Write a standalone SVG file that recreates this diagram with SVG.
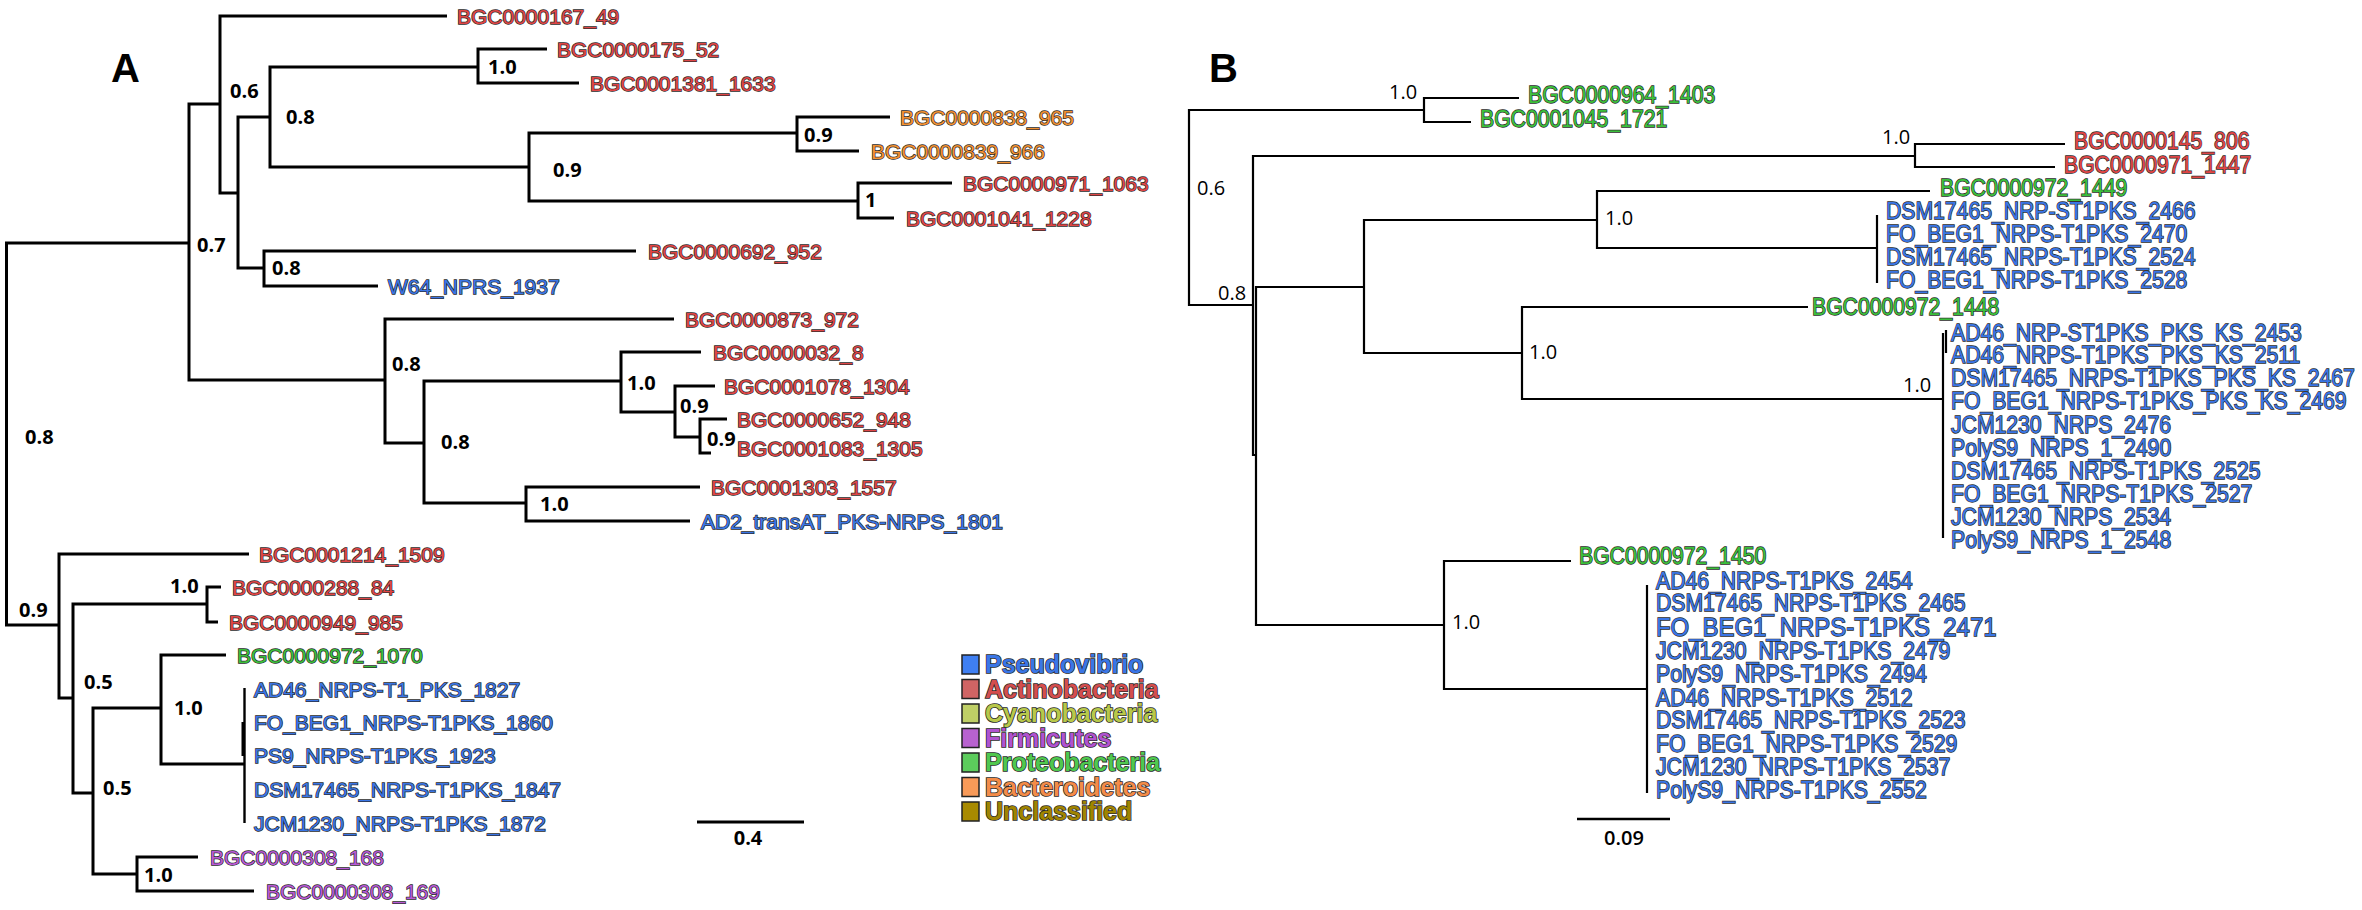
<svg xmlns="http://www.w3.org/2000/svg" width="2362" height="910" viewBox="0 0 2362 910">
<style>
.ta{stroke:#000;stroke-width:3;fill:none;stroke-linejoin:miter}
.tb{stroke:#000;stroke-width:2.2;fill:none;stroke-linejoin:miter}
.la{font-family:"Liberation Sans",Arial,sans-serif;font-size:21px;stroke:#2a2a2a;stroke-width:1.4px;paint-order:stroke}
.lb{font-family:"Liberation Sans",Arial,sans-serif;font-size:24px;stroke:#2a2a2a;stroke-width:1.4px;paint-order:stroke}
.red{fill:#e04646}.blue{fill:#3a76e6}.green{fill:#3cbf3c}.orange{fill:#f39232}.purple{fill:#b85ad6}
.sa{font-family:"Open Sans","DejaVu Sans",sans-serif;font-size:20px;font-weight:700;fill:#000}
.sb{font-family:"Open Sans","DejaVu Sans",sans-serif;font-size:20px;font-weight:400;fill:#000}
.pl{font-family:"Liberation Sans",Arial,sans-serif;font-size:40px;font-weight:700;fill:#000}
.lg{font-family:"Liberation Sans",Arial,sans-serif;font-size:25px;font-weight:700;stroke:#2a2a2a;stroke-width:1.6px;paint-order:stroke}
.sq{stroke:#222;stroke-width:1.5}
</style>
<rect width="2362" height="910" fill="#fff"/>
<text class="pl" x="111" y="82">A</text>
<text class="pl" x="1209" y="82">B</text>
<g id="connectors">
<g id="tree-A">
<path class="ta" d="M189,243 H6.5 V625 H59"/>
<path class="ta" d="M220,104 H189 V380 H385"/>
<path class="ta" d="M447,16 H220 V193 H238"/>
<path class="ta" d="M270,117 H238 V268 H264"/>
<path class="ta" d="M478,67 H270 V167 H529"/>
<path class="ta" d="M547,49 H478 V83 H579"/>
<path class="ta" d="M797,133 H529 V201 H858"/>
<path class="ta" d="M890,117 H797 V151 H859"/>
<path class="ta" d="M952,183 H858 V218 H894"/>
<path class="ta" d="M636,251 H264 V286 H378"/>
<path class="ta" d="M674,319 H385 V443 H424"/>
<path class="ta" d="M621,381 H424 V503 H526"/>
<path class="ta" d="M701,352 H621 V412 H675"/>
<path class="ta" d="M715,386 H675 V437 H700"/>
<path class="ta" d="M727,419 H700 V453 H711"/>
<path class="ta" d="M700,487 H526 V521 H690"/>
<path class="ta" d="M249,554 H59 V698 H73"/>
<path class="ta" d="M207,604 H73 V793 H93"/>
<path class="ta" d="M221,587 H207 V622 H218"/>
<path class="ta" d="M161,708 H93 V874 H137"/>
<path class="ta" d="M226,655 H161 V764 H244"/>
<path class="ta" d="M244.5,688 V823" style="stroke-width:2.4"/>
<path class="ta" d="M243,722 V756"/>
<path class="ta" d="M198,857 H137 V891 H254"/>
<path class="ta" d="M697,822 H804"/>
</g>
<g id="tree-B">
<path class="tb" d="M1424,110 H1189 V305 H1253"/>
<path class="tb" d="M1519,98 H1424 V122 H1471"/>
<path class="tb" d="M1915,156 H1253 V455 H1256"/>
<path class="tb" d="M2065,144 H1915 V167 H2055"/>
<path class="tb" d="M1364,287 H1256 V625 H1444"/>
<path class="tb" d="M1597,220 H1364 V353 H1522"/>
<path class="tb" d="M1930,191 H1597 V248 H1877"/>
<path class="tb" d="M1877,215 V283"/>
<path class="tb" d="M1808,307 H1522 V399 H1943"/>
<path class="tb" d="M1943,333 V538"/>
<path class="tb" d="M1946,330 V353"/>
<path class="tb" d="M1571,561 H1444 V689 H1647"/>
<path class="tb" d="M1647,585 V793"/>
<path class="tb" d="M1577,819 H1670" style="stroke-width:2.6"/>
</g>
</g>
<g id="support-values">
<text class="sa" x="197" y="252">0.7</text>
<text class="sa" x="230" y="98">0.6</text>
<text class="sa" x="286" y="124">0.8</text>
<text class="sa" x="488" y="74">1.0</text>
<text class="sa" x="553" y="177">0.9</text>
<text class="sa" x="804" y="142">0.9</text>
<text class="sa" x="865" y="207">1</text>
<text class="sa" x="272" y="275">0.8</text>
<text class="sa" x="392" y="371">0.8</text>
<text class="sa" x="441" y="449">0.8</text>
<text class="sa" x="627" y="390">1.0</text>
<text class="sa" x="680" y="413">0.9</text>
<text class="sa" x="707" y="446">0.9</text>
<text class="sa" x="540" y="511">1.0</text>
<text class="sa" x="25" y="444">0.8</text>
<text class="sa" x="19" y="617">0.9</text>
<text class="sa" x="170" y="593">1.0</text>
<text class="sa" x="84" y="689">0.5</text>
<text class="sa" x="103" y="795">0.5</text>
<text class="sa" x="174" y="715">1.0</text>
<text class="sa" x="144" y="882">1.0</text>
<text class="sa" x="748" y="845" text-anchor="middle">0.4</text>
<text class="sb" x="1389" y="99">1.0</text>
<text class="sb" x="1197" y="195">0.6</text>
<text class="sb" x="1218" y="300">0.8</text>
<text class="sb" x="1882" y="144">1.0</text>
<text class="sb" x="1605" y="225">1.0</text>
<text class="sb" x="1529" y="359">1.0</text>
<text class="sb" x="1903" y="392">1.0</text>
<text class="sb" x="1452" y="629">1.0</text>
<text class="sb" x="1624" y="845" text-anchor="middle" style="font-weight:600">0.09</text>
</g>
<g id="nodes-A">
<g id="a1"><text class="la red" x="457" y="23.5">BGC0000167_49</text></g>
<g id="a2"><text class="la red" x="557" y="56.5">BGC0000175_52</text></g>
<g id="a3"><text class="la red" x="590" y="90.5">BGC0001381_1633</text></g>
<g id="a4"><text class="la orange" x="900" y="124.5">BGC0000838_965</text></g>
<g id="a5"><text class="la orange" x="871" y="158.5">BGC0000839_966</text></g>
<g id="a6"><text class="la red" x="963" y="190.5">BGC0000971_1063</text></g>
<g id="a7"><text class="la red" x="906" y="225.5">BGC0001041_1228</text></g>
<g id="a8"><text class="la red" x="648" y="258.5">BGC0000692_952</text></g>
<g id="a9"><text class="la blue" x="388" y="293.5">W64_NPRS_1937</text></g>
<g id="a10"><text class="la red" x="685" y="326.5">BGC0000873_972</text></g>
<g id="a11"><text class="la red" x="713" y="359.5">BGC0000032_8</text></g>
<g id="a12"><text class="la red" x="724" y="393.5">BGC0001078_1304</text></g>
<g id="a13"><text class="la red" x="737" y="426.5">BGC0000652_948</text></g>
<g id="a14"><text class="la red" x="737" y="456">BGC0001083_1305</text></g>
<g id="a15"><text class="la red" x="711" y="494.5">BGC0001303_1557</text></g>
<g id="a16"><text class="la blue" x="701" y="528.5">AD2_transAT_PKS-NRPS_1801</text></g>
<g id="a17"><text class="la red" x="259" y="561.5">BGC0001214_1509</text></g>
<g id="a18"><text class="la red" x="232" y="594.5">BGC0000288_84</text></g>
<g id="a19"><text class="la red" x="229" y="629.5">BGC0000949_985</text></g>
<g id="a20"><text class="la green" x="237" y="662.5">BGC0000972_1070</text></g>
<g id="a21"><text class="la blue" x="254" y="696.5">AD46_NRPS-T1_PKS_1827</text></g>
<g id="a22"><text class="la blue" x="254" y="729.5">FO_BEG1_NRPS-T1PKS_1860</text></g>
<g id="a23"><text class="la blue" x="254" y="762.5">PS9_NRPS-T1PKS_1923</text></g>
<g id="a24"><text class="la blue" x="254" y="796.5">DSM17465_NRPS-T1PKS_1847</text></g>
<g id="a25"><text class="la blue" x="254" y="830.5">JCM1230_NRPS-T1PKS_1872</text></g>
<g id="a26"><text class="la purple" x="210" y="864.5">BGC0000308_168</text></g>
<g id="a27"><text class="la purple" x="266" y="898.5">BGC0000308_169</text></g>
</g>
<g id="nodes-B">
<g id="b1"><text class="lb green" transform="translate(1528 103) scale(0.883 1)">BGC0000964_1403</text></g>
<g id="b2"><text class="lb green" transform="translate(1480 126.5) scale(0.883 1)">BGC0001045_1721</text></g>
<g id="b3"><text class="lb red" transform="translate(2074 148.5) scale(0.883 1)">BGC0000145_806</text></g>
<g id="b4"><text class="lb red" transform="translate(2064 172.5) scale(0.883 1)">BGC0000971_1447</text></g>
<g id="b5"><text class="lb green" transform="translate(1940 195.5) scale(0.883 1)">BGC0000972_1449</text></g>
<g id="b6"><text class="lb blue" transform="translate(1886 218.5) scale(0.883 1)">DSM17465_NRP-ST1PKS_2466</text></g>
<g id="b7"><text class="lb blue" transform="translate(1886 241.5) scale(0.883 1)">FO_BEG1_NRPS-T1PKS_2470</text></g>
<g id="b8"><text class="lb blue" transform="translate(1886 265) scale(0.883 1)">DSM17465_NRPS-T1PKS_2524</text></g>
<g id="b9"><text class="lb blue" transform="translate(1886 288) scale(0.883 1)">FO_BEG1_NRPS-T1PKS_2528</text></g>
<g id="b10"><text class="lb green" transform="translate(1812 314.5) scale(0.883 1)">BGC0000972_1448</text></g>
<g id="b11"><text class="lb blue" transform="translate(1951 340.5) scale(0.883 1)">AD46_NRP-ST1PKS_PKS_KS_2453</text></g>
<g id="b12"><text class="lb blue" transform="translate(1951 363) scale(0.883 1)">AD46_NRPS-T1PKS_PKS_KS_2511</text></g>
<g id="b13"><text class="lb blue" transform="translate(1951 386) scale(0.883 1)">DSM17465_NRPS-T1PKS_PKS_KS_2467</text></g>
<g id="b14"><text class="lb blue" transform="translate(1951 409) scale(0.883 1)">FO_BEG1_NRPS-T1PKS_PKS_KS_2469</text></g>
<g id="b15"><text class="lb blue" transform="translate(1951 432.5) scale(0.883 1)">JCM1230_NRPS_2476</text></g>
<g id="b16"><text class="lb blue" transform="translate(1951 455.5) scale(0.883 1)">PolyS9_NRPS_1_2490</text></g>
<g id="b17"><text class="lb blue" transform="translate(1951 478.5) scale(0.883 1)">DSM17465_NRPS-T1PKS_2525</text></g>
<g id="b18"><text class="lb blue" transform="translate(1951 501.5) scale(0.883 1)">FO_BEG1_NRPS-T1PKS_2527</text></g>
<g id="b19"><text class="lb blue" transform="translate(1951 524.5) scale(0.883 1)">JCM1230_NRPS_2534</text></g>
<g id="b20"><text class="lb blue" transform="translate(1951 547.5) scale(0.883 1)">PolyS9_NRPS_1_2548</text></g>
<g id="b21"><text class="lb green" transform="translate(1579 563.5) scale(0.883 1)">BGC0000972_1450</text></g>
<g id="b22"><text class="lb blue" transform="translate(1656 588.5) scale(0.883 1)">AD46_NRPS-T1PKS_2454</text></g>
<g id="b23"><text class="lb blue" transform="translate(1656 611) scale(0.883 1)">DSM17465_NRPS-T1PKS_2465</text></g>
<g id="b24"><text class="lb blue" transform="translate(1656 636) scale(0.9 1)" style="font-size:26.6px">FO_BEG1_NRPS-T1PKS_2471</text></g>
<g id="b25"><text class="lb blue" transform="translate(1656 658.5) scale(0.883 1)">JCM1230_NRPS-T1PKS_2479</text></g>
<g id="b26"><text class="lb blue" transform="translate(1656 681.5) scale(0.883 1)">PolyS9_NRPS-T1PKS_2494</text></g>
<g id="b27"><text class="lb blue" transform="translate(1656 705.5) scale(0.883 1)">AD46_NRPS-T1PKS_2512</text></g>
<g id="b28"><text class="lb blue" transform="translate(1656 728) scale(0.883 1)">DSM17465_NRPS-T1PKS_2523</text></g>
<g id="b29"><text class="lb blue" transform="translate(1656 751.5) scale(0.883 1)">FO_BEG1_NRPS-T1PKS_2529</text></g>
<g id="b30"><text class="lb blue" transform="translate(1656 774.5) scale(0.883 1)">JCM1230_NRPS-T1PKS_2537</text></g>
<g id="b31"><text class="lb blue" transform="translate(1656 797.5) scale(0.883 1)">PolyS9_NRPS-T1PKS_2552</text></g>
</g>
<g id="legend">
<rect class="sq" x="962" y="655" width="17" height="19" fill="#3f7ff2"/>
<text class="lg" x="985" y="673" fill="#3a76e6">Pseudovibrio</text>
<rect class="sq" x="962" y="679.5" width="17" height="19" fill="#d06464"/>
<text class="lg" x="985" y="697.5" fill="#d44e4e">Actinobacteria</text>
<rect class="sq" x="962" y="704" width="17" height="19" fill="#bfcf66"/>
<text class="lg" x="985" y="722" fill="#b8c84a">Cyanobacteria</text>
<rect class="sq" x="962" y="728.5" width="17" height="19" fill="#b862d0"/>
<text class="lg" x="985" y="746.5" fill="#b052d0">Firmicutes</text>
<rect class="sq" x="962" y="753" width="17" height="19" fill="#5ccc5c"/>
<text class="lg" x="985" y="771" fill="#4fc84f">Proteobacteria</text>
<rect class="sq" x="962" y="777.5" width="17" height="19" fill="#f89a58"/>
<text class="lg" x="985" y="795.5" fill="#f48c48">Bacteroidetes</text>
<rect class="sq" x="962" y="802" width="17" height="19" fill="#a88a00"/>
<text class="lg" x="985" y="820" fill="#a08400">Unclassified</text>
</g>
</svg>
